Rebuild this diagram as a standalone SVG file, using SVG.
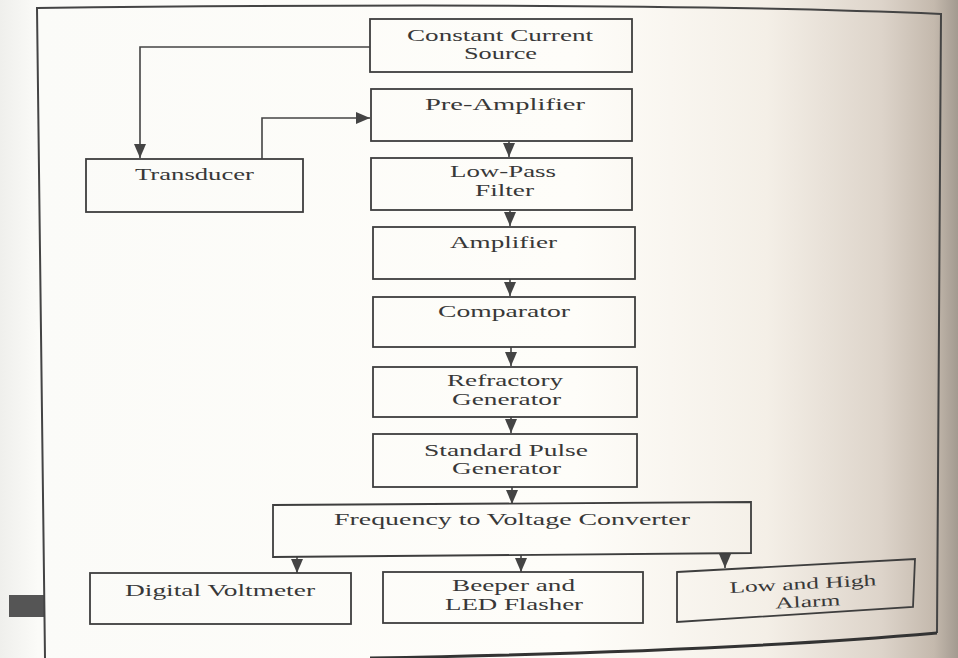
<svg xmlns="http://www.w3.org/2000/svg" width="958" height="658" viewBox="0 0 958 658">
<defs>
<linearGradient id="page" x1="0" y1="0" x2="1" y2="0">
<stop offset="0" stop-color="#efefec"/>
<stop offset="0.04" stop-color="#fbfbf8"/>
<stop offset="0.6" stop-color="#fefdf9"/>
<stop offset="0.8" stop-color="#f4efe7"/>
<stop offset="0.92" stop-color="#ddd4ca"/>
<stop offset="0.975" stop-color="#c4b9ad"/>
<stop offset="1" stop-color="#a39a90"/>
</linearGradient>
<marker id="ah" viewBox="0 0 14 12" refX="14" refY="6" markerWidth="14" markerHeight="12" markerUnits="userSpaceOnUse" orient="auto">
<path d="M0,0 L14,6 L0,12 z" fill="#444"/>
</marker>
<style>
.box{fill:none;stroke:#3e3e3e;stroke-width:1.8}
.lbl{font-family:"Liberation Serif","Times New Roman",serif;font-size:16px;fill:#383838;text-anchor:middle}
.con{fill:none;stroke:#444;stroke-width:1.6}
</style>
</defs>
<rect x="0" y="0" width="958" height="658" fill="url(#page)"/>
<g id="page-frame">
<rect x="9" y="595" width="35" height="22" fill="#555"/>
<path d="M45 658 L37 8 Q640 1 941 14 L937 633" fill="none" stroke="#444" stroke-width="2"/>
<path d="M937 633 Q720 652 370 658" fill="none" stroke="#333" stroke-width="3"/>
</g>
<g id="connectors">
<polyline class="con" points="370,47 140,47 140,158" marker-end="url(#ah)"/>
<polyline class="con" points="262,159 262,118 370,118" marker-end="url(#ah)"/>
<line class="con" x1="509" y1="141" x2="509" y2="157" marker-end="url(#ah)"/>
<line class="con" x1="510" y1="210" x2="510" y2="226" marker-end="url(#ah)"/>
<line class="con" x1="510" y1="279" x2="510" y2="296" marker-end="url(#ah)"/>
<line class="con" x1="511" y1="347" x2="511" y2="366" marker-end="url(#ah)"/>
<line class="con" x1="511" y1="417" x2="511" y2="433" marker-end="url(#ah)"/>
<line class="con" x1="512" y1="487" x2="512" y2="504" marker-end="url(#ah)"/>
<line class="con" x1="297" y1="557" x2="297" y2="573" marker-end="url(#ah)"/>
<line class="con" x1="521" y1="555" x2="521" y2="572" marker-end="url(#ah)"/>
<line class="con" x1="725" y1="553" x2="725" y2="568" marker-end="url(#ah)"/>
</g>
<g id="constant-current-source">
<rect class="box" x="370" y="19" width="262" height="53"/>
<text class="lbl" x="500" y="41" textLength="186" lengthAdjust="spacingAndGlyphs">Constant Current</text>
<text class="lbl" x="500.5" y="59" textLength="73" lengthAdjust="spacingAndGlyphs">Source</text>
</g>
<g id="pre-amplifier">
<rect class="box" x="371" y="89" width="261" height="52"/>
<text class="lbl" x="505" y="110" textLength="160" lengthAdjust="spacingAndGlyphs">Pre-Amplifier</text>
</g>
<g id="transducer">
<rect class="box" x="86" y="159" width="217" height="53"/>
<text class="lbl" x="194.5" y="180" textLength="119" lengthAdjust="spacingAndGlyphs">Transducer</text>
</g>
<g id="low-pass-filter">
<rect class="box" x="371" y="158" width="261" height="52"/>
<text class="lbl" x="503" y="177" textLength="106" lengthAdjust="spacingAndGlyphs">Low-Pass</text>
<text class="lbl" x="504.5" y="196" textLength="59" lengthAdjust="spacingAndGlyphs">Filter</text>
</g>
<g id="amplifier">
<rect class="box" x="373" y="227" width="262" height="52"/>
<text class="lbl" x="503.5" y="248" textLength="107" lengthAdjust="spacingAndGlyphs">Amplifier</text>
</g>
<g id="comparator">
<rect class="box" x="373" y="297" width="262" height="50"/>
<text class="lbl" x="504" y="317" textLength="132" lengthAdjust="spacingAndGlyphs">Comparator</text>
</g>
<g id="refractory-generator">
<rect class="box" x="373" y="367" width="264" height="50"/>
<text class="lbl" x="505" y="386" textLength="116" lengthAdjust="spacingAndGlyphs">Refractory</text>
<text class="lbl" x="506.5" y="405" textLength="109" lengthAdjust="spacingAndGlyphs">Generator</text>
</g>
<g id="standard-pulse-generator">
<rect class="box" x="373" y="434" width="264" height="53"/>
<text class="lbl" x="506" y="456" textLength="164" lengthAdjust="spacingAndGlyphs">Standard Pulse</text>
<text class="lbl" x="506.5" y="474" textLength="109" lengthAdjust="spacingAndGlyphs">Generator</text>
</g>
<g id="frequency-to-voltage-converter">
<polygon class="box" points="273,505 751,502 751,553 273,557"/>
<text class="lbl" x="512" y="525" textLength="356" lengthAdjust="spacingAndGlyphs">Frequency to Voltage Converter</text>
</g>
<g id="digital-voltmeter">
<rect class="box" x="90" y="573" width="261" height="51"/>
<text class="lbl" x="220" y="596" textLength="190" lengthAdjust="spacingAndGlyphs">Digital Voltmeter</text>
</g>
<g id="beeper-led-flasher">
<rect class="box" x="383" y="572" width="260" height="51"/>
<text class="lbl" x="513.5" y="591" textLength="123" lengthAdjust="spacingAndGlyphs">Beeper and</text>
<text class="lbl" x="514" y="610" textLength="138" lengthAdjust="spacingAndGlyphs">LED Flasher</text>
</g>
<g id="low-high-alarm">
<polygon class="box" points="677,572 915,559 913,607 677,622"/>
<g transform="rotate(-3 805 598)">
<text class="lbl" x="803.5" y="589" textLength="147" lengthAdjust="spacingAndGlyphs">Low and High</text>
<text class="lbl" x="807.5" y="607" textLength="65" lengthAdjust="spacingAndGlyphs">Alarm</text>
</g>
</g>
</svg>
